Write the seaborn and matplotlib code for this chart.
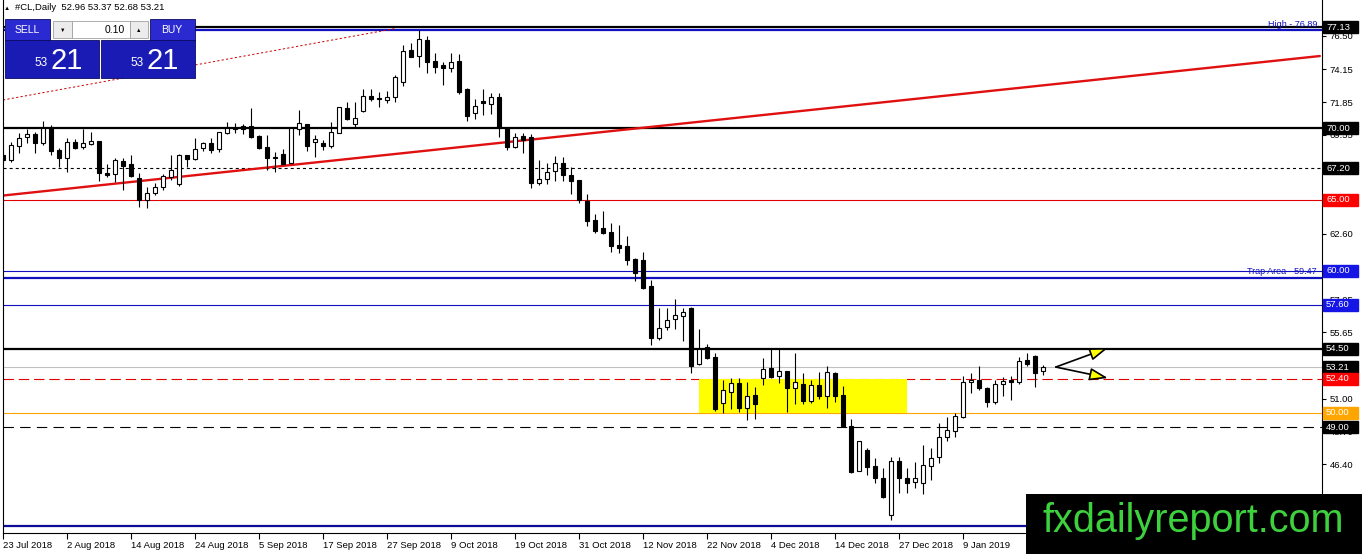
import matplotlib
matplotlib.use("Agg")
import matplotlib.pyplot as plt
import seaborn as sns
import numpy as np
from matplotlib.patches import Rectangle, FancyArrowPatch
from matplotlib.transforms import blended_transform_factory

# ---------------- data ----------------
opens = [68.10, 67.77, 68.78, 69.41, 69.58, 68.99, 70.00, 68.48, 67.89, 69.02,
         68.66, 68.92, 69.11, 66.88, 66.77, 67.73, 67.49, 66.53, 64.96, 65.48,
         65.85, 66.60, 66.09, 68.13, 67.87, 68.61, 68.95, 68.55, 69.70, 70.05,
         70.17, 70.17, 69.46, 68.71, 68.01, 68.17, 67.54, 69.95, 70.31, 69.02,
         68.95, 68.76, 69.70, 71.41, 70.31, 71.22, 72.30, 72.11, 71.99, 72.18,
         73.28, 75.51, 75.11, 76.21, 74.74, 74.46, 74.22, 74.74, 72.77, 71.06,
         71.92, 71.69, 72.18, 70.00, 68.67, 69.46, 69.40, 66.14, 66.42, 67.00,
         67.54, 66.72, 66.37, 64.92, 63.56, 62.97, 62.71, 61.80, 61.73, 60.79,
         60.74, 58.92, 55.24, 56.01, 56.58, 56.81, 57.35, 53.44, 54.61, 53.90,
         50.67, 51.49, 52.08, 50.32, 51.26, 52.43, 53.13, 52.59, 52.94, 51.72,
         52.03, 50.83, 51.96, 51.18, 52.78, 51.25, 49.07, 45.91, 47.38, 46.26,
         45.44, 42.81, 46.61, 45.44, 45.16, 45.09, 46.26, 46.87, 48.28, 48.72,
         49.73, 52.14, 52.31, 51.72, 50.78, 52.00, 52.31, 52.14, 53.71, 53.99,
         52.96]
highs = [68.40, 69.06, 69.65, 69.93, 69.77, 70.52, 70.24, 68.59, 69.30, 69.23,
         69.95, 69.77, 69.11, 67.49, 67.89, 67.89, 68.10, 66.88, 65.90, 66.13,
         66.79, 68.13, 68.20, 68.13, 69.30, 69.06, 69.30, 69.77, 70.47, 70.35,
         70.28, 71.41, 69.53, 69.53, 68.36, 68.52, 70.00, 71.29, 70.31, 69.53,
         69.18, 70.42, 71.48, 71.88, 71.88, 72.77, 72.77, 72.58, 72.63, 73.75,
         75.86, 75.98, 76.92, 76.49, 75.28, 74.69, 75.28, 75.21, 72.81, 72.04,
         72.74, 72.46, 72.46, 70.07, 69.65, 69.65, 69.60, 67.78, 67.59, 68.06,
         68.01, 67.26, 66.37, 65.39, 63.98, 64.19, 63.37, 63.21, 62.43, 60.86,
         61.33, 59.34, 57.35, 57.35, 57.98, 57.35, 57.42, 55.87, 54.84, 54.19,
         52.31, 52.43, 52.43, 52.19, 51.80, 53.83, 54.47, 54.47, 52.94, 54.18,
         52.78, 52.31, 52.85, 53.29, 52.85, 51.88, 49.54, 48.02, 47.50, 46.80,
         46.10, 46.92, 46.92, 46.10, 46.56, 47.74, 47.50, 49.26, 49.73, 50.01,
         52.59, 52.78, 53.29, 51.84, 52.31, 52.50, 52.59, 53.90, 54.18, 54.07,
         53.37]
lows = [67.60, 67.66, 68.24, 68.95, 68.24, 68.83, 68.13, 67.31, 66.95, 68.52,
        68.52, 68.83, 66.32, 66.60, 66.25, 65.66, 66.60, 64.49, 64.38, 65.31,
        65.66, 66.37, 65.95, 67.26, 67.77, 68.43, 68.24, 68.36, 69.60, 69.65,
        69.60, 69.30, 68.52, 67.07, 66.95, 67.49, 67.54, 69.53, 68.43, 68.01,
        68.48, 68.59, 69.65, 70.59, 70.12, 71.17, 71.95, 71.53, 71.76, 71.88,
        73.00, 74.99, 74.34, 73.87, 73.87, 73.05, 73.99, 72.42, 70.54, 70.68,
        70.94, 71.01, 69.42, 68.48, 68.59, 68.24, 65.78, 66.02, 66.07, 66.32,
        66.32, 65.36, 64.78, 63.14, 62.67, 62.57, 61.33, 61.21, 60.39, 59.27,
        58.68, 54.77, 55.12, 55.83, 55.87, 55.08, 52.78, 53.37, 53.76, 50.15,
        49.97, 50.25, 50.08, 49.50, 49.55, 51.96, 52.43, 52.12, 50.08, 50.62,
        50.62, 50.67, 50.95, 50.31, 50.78, 49.03, 45.74, 45.91, 45.63, 45.09,
        43.99, 42.46, 44.34, 44.34, 44.69, 44.29, 45.28, 46.49, 48.04, 48.28,
        49.66, 51.37, 51.60, 50.39, 50.62, 51.18, 50.90, 52.03, 53.29, 51.79,
        52.68]
closes = [67.77, 68.83, 69.30, 69.60, 68.99, 70.00, 68.43, 67.89, 69.02, 68.64,
          68.95, 69.09, 66.84, 66.70, 67.77, 67.38, 66.67, 64.96, 65.48, 65.90,
          66.67, 67.07, 68.13, 67.87, 68.52, 68.95, 68.48, 69.77, 70.00, 69.93,
          69.93, 69.37, 68.59, 67.89, 67.89, 67.49, 70.00, 70.35, 68.76, 69.25,
          68.76, 69.72, 71.48, 70.66, 70.75, 72.30, 72.06, 72.04, 72.23, 73.59,
          75.46, 75.04, 76.26, 74.69, 74.34, 74.22, 74.69, 72.58, 70.87, 71.57,
          71.76, 72.18, 70.07, 68.67, 69.37, 69.18, 66.14, 66.42, 66.96, 67.59,
          66.72, 66.32, 64.96, 63.51, 62.81, 62.67, 61.75, 61.61, 60.74, 59.81,
          58.75, 55.24, 55.94, 56.53, 56.88, 57.12, 53.30, 54.47, 53.83, 50.25,
          51.61, 52.08, 50.32, 51.19, 50.62, 53.07, 52.55, 52.94, 51.72, 52.14,
          50.83, 51.96, 51.18, 52.85, 51.18, 49.07, 45.86, 48.02, 46.17, 45.39,
          44.06, 46.61, 45.39, 45.09, 45.44, 46.33, 46.80, 48.28, 48.79, 49.78,
          52.14, 52.31, 51.72, 50.74, 52.03, 52.26, 52.19, 53.67, 53.43, 52.78,
          53.21]

date_labels = ["23 Jul 2018", "2 Aug 2018", "14 Aug 2018", "24 Aug 2018", "5 Sep 2018",
               "17 Sep 2018", "27 Sep 2018", "9 Oct 2018", "19 Oct 2018", "31 Oct 2018",
               "12 Nov 2018", "22 Nov 2018", "4 Dec 2018", "14 Dec 2018", "27 Dec 2018",
               "9 Jan 2019"]
date_label_bars = [0, 8, 16, 24, 32, 40, 48, 56, 64, 72, 80, 88, 96, 104, 112, 120]

price_ticks = [76.50, 74.15, 71.85, 69.55, 67.25, 64.90, 62.60, 60.30, 57.95,
               55.65, 53.35, 51.00, 48.70, 46.40, 44.10]
# scale labels that the price boxes hide completely in the reference
hidden_ticks = [67.25, 64.90, 60.30, 53.35, 44.10]

# horizontal levels
level_prices = [77.13, 76.89, 70.00, 67.20, 65.00, 60.00, 59.47, 57.60, 54.50,
                53.21, 52.40, 50.00, 49.00, 42.05]
# price labels on the right scale
box_prices = [77.13, 70.00, 67.20, 65.00, 60.00, 57.60, 54.50, 53.21, 52.40, 50.00, 49.00]

# trend lines (bar index, price)
trend_bars = [0, 164.6]
trend_prices = [65.28, 75.09]
dotted_bars = [0, 49]
dotted_prices = [72.00, 77.02]

# support zone
zone_bars = [87, 113]
zone_prices = [50.00, 52.40]

# arrows
arrow_start = (131.6, 53.22)
arrow_ends = [(138.1, 54.56), (138.1, 52.45)]

symbol = "#CL,Daily"
lot = "0.10"

# ---------------- styles ----------------
W, H = 1362, 554
BLUE = "#1010c0"
level_styles = [
    dict(color="black", lw=1.6, ls="-"),
    dict(color=BLUE, lw=1.6, ls="-"),
    dict(color="black", lw=1.6, ls="-"),
    dict(color="black", lw=0.8, ls=(0, (2.2, 2.2))),
    dict(color="#e00000", lw=0.8, ls="-"),
    dict(color=BLUE, lw=0.8, ls="-"),
    dict(color=BLUE, lw=1.6, ls="-"),
    dict(color=BLUE, lw=0.8, ls="-"),
    dict(color="black", lw=1.6, ls="-"),
    dict(color="#c0c0c0", lw=0.8, ls="-"),
    dict(color="#e00000", lw=0.8, ls=(0, (7.5, 3.5))),
    dict(color="#ffa500", lw=0.8, ls="-"),
    dict(color="black", lw=0.8, ls=(0, (7.5, 4.5))),
    dict(color="#0c0c96", lw=1.6, ls="-"),
]
box_colors = ["black", "black", "black", "#ff0000", "#1515e6", "#1515e6",
              "black", "black", "#ff0000", "#ffa500", "black"]

sns.set_theme(style="white")
plt.rcParams["font.family"] = ["Liberation Sans", "DejaVu Sans"]
plt.rcParams["lines.scale_dashes"] = False
plt.rcParams["axes.linewidth"] = 0.8

fig = plt.figure(figsize=(W / 100, H / 100), dpi=100, facecolor="white")
ax_left, ax_right, ax_top, ax_bottom = 3, 1322, 0, 533
ax = fig.add_axes([ax_left / W, 1 - ax_bottom / H, (ax_right - ax_left) / W, (ax_bottom - ax_top) / H])
ax.set_facecolor("white")

px_per_bar = 8.0
ax.set_xlim(0, (ax_right - ax_left) / px_per_bar)
ax.set_ylim(41.55, 79.03)

# levels
for p, st in zip(level_prices, level_styles):
    ax.axhline(p, color=st["color"], lw=st["lw"], ls=st["ls"], zorder=1)

# zone
ax.add_patch(Rectangle((zone_bars[0], zone_prices[0]), zone_bars[1] - zone_bars[0],
                       zone_prices[1] - zone_prices[0], facecolor="#ffff00",
                       edgecolor="none", zorder=1.5))

# trend lines via seaborn
sns.lineplot(x=trend_bars, y=trend_prices, ax=ax, color="#e01010", lw=1.7, zorder=2)
sns.lineplot(x=dotted_bars, y=dotted_prices, ax=ax, color="#cc0000", lw=0.7,
             linestyle=(0, (1.6, 1.6)), zorder=2)

# candles
x = np.arange(len(opens))
o = np.array(opens); c = np.array(closes); h = np.array(highs); l = np.array(lows)
ax.vlines(x, l, h, color="black", lw=0.8, zorder=3)
bull = c >= o
body_bottom = np.minimum(o, c)
body_h = np.maximum(np.abs(c - o), 0.05)
ax.bar(x[bull], body_h[bull], bottom=body_bottom[bull], width=0.62, color="white",
       edgecolor="black", linewidth=0.8, zorder=4)
ax.bar(x[~bull], body_h[~bull], bottom=body_bottom[~bull], width=0.62, color="black",
       edgecolor="black", linewidth=0.8, zorder=4)

# arrows
for end in arrow_ends:
    arr = FancyArrowPatch(arrow_start, end, arrowstyle="-|>,head_length=11,head_width=3.8",
                          mutation_scale=1, facecolor="#ffff00", edgecolor="black",
                          lw=1.2, zorder=6, clip_on=False, shrinkA=0, shrinkB=0)
    ax.add_patch(arr)

# axes cosmetics
ax.spines["top"].set_visible(False)
for s in ["left", "right", "bottom"]:
    ax.spines[s].set_visible(True)
    ax.spines[s].set_color("black")
    ax.spines[s].set_linewidth(0.8)
ax.grid(False)
ax.yaxis.tick_right()
ax.set_yticks(price_ticks)
ax.set_yticklabels(["" if v in hidden_ticks else f"{v:.2f}" for v in price_ticks])
ax.tick_params(axis="y", direction="out", length=3, width=0.8, pad=2.5,
               labelsize=6.8, colors="black", right=True, left=False)
ax.set_xticks(date_label_bars)
ax.set_xticklabels(date_labels, ha="left")
ax.tick_params(axis="x", direction="out", length=4, width=0.8, pad=1.5,
               labelsize=6.8, colors="black", bottom=True)
ax.set_xlabel(""); ax.set_ylabel("")

# right price boxes
trans = blended_transform_factory(ax.transAxes, ax.transData)
span = ax_right - ax_left
bx0 = (1323 - ax_left) / span
bw = 35 / span
bh = 12 / (533 / (79.03 - 41.55))
for p, col in zip(box_prices, box_colors):
    ax.add_patch(Rectangle((bx0, p - bh / 2), bw, bh, transform=trans, facecolor=col,
                           edgecolor=col, clip_on=False, zorder=8))
    ax.text((1326 - ax_left) / span, p, f"{p:.2f}", transform=trans, color="white",
            fontsize=6.8, ha="left", va="center", clip_on=False, zorder=9)

# line labels
ax.text((1317 - ax_left) / span, level_prices[1] + 0.12, f"High - {level_prices[1]:.2f}",
        transform=trans, color=BLUE, fontsize=6.5, ha="right", va="bottom", zorder=7)
ax.text((1317 - ax_left) / span, level_prices[6] + 0.12, f"Trap Area - {level_prices[6]:.2f}",
        transform=trans, color=BLUE, fontsize=6.5, ha="right", va="bottom", zorder=7)


# ---------------- figure-level overlays ----------------
def frect(x0, y0, x1, y1, fc, ec="none", lw=0.0, z=10):
    fig.add_artist(Rectangle((x0 / W, 1 - y1 / H), (x1 - x0) / W, (y1 - y0) / H,
                             transform=fig.transFigure, facecolor=fc, edgecolor=ec,
                             linewidth=lw, zorder=z))


def ftext(x0, y0, s, **kw):
    fig.text(x0 / W, 1 - y0 / H, s, zorder=12, **kw)


# header
ftext(4, 8, "▲", fontsize=4.5, color="black", va="center", ha="left")
ftext(15, 8, f"{symbol}  {opens[-1]:.2f} {highs[-1]:.2f} {lows[-1]:.2f} {closes[-1]:.2f}",
      fontsize=6.8, color="black", va="center", ha="left")

# trade panel
frect(5, 19, 195, 40, "white")
frect(5, 19, 50, 41, "#2a2ad0", ec="#0a0a60", lw=0.6)
frect(150, 19, 195, 41, "#2a2ad0", ec="#0a0a60", lw=0.6)
frect(5, 40, 99, 78, "#1a1ab4", ec="#0a0a60", lw=0.6)
frect(101, 40, 195, 78, "#1a1ab4", ec="#0a0a60", lw=0.6)
frect(9, 39.5, 46, 40.3, "#8080e0", z=11)
frect(154, 39.5, 191, 40.3, "#8080e0", z=11)
frect(53, 21, 72, 38, "#ececec", ec="#a0a0a0", lw=0.6)
frect(72, 21, 130, 38, "white", ec="#a0a0a0", lw=0.6)
frect(130, 21, 148, 38, "#ececec", ec="#a0a0a0", lw=0.6)
ftext(62.5, 30, "▼", fontsize=4, color="black", ha="center", va="center")
ftext(139, 30, "▲", fontsize=4, color="black", ha="center", va="center")
ftext(125, 30, lot, fontsize=7.5, color="black", ha="right", va="center")
ftext(27, 30, "SELL", fontsize=7.5, color="white", ha="center", va="center")
ftext(172, 30, "BUY", fontsize=7.5, color="white", ha="center", va="center")
bid = f"{closes[-1]:.2f}"
big, small = bid.split(".")[1], bid.split(".")[0]
for bx in (0, 96):
    ftext(48 + bx, 66, small, fontsize=8.5, color="white", ha="right", va="baseline")
    ftext(51 + bx, 69, big, fontsize=21, color="white", ha="left", va="baseline")

# watermark
frect(1026, 494, 1362, 554, "black", z=10)
ftext(1193, 521, "fxdailyreport.com", fontsize=28.5, color="#3dd13d", ha="center", va="center")

fig.savefig("out.png", dpi=100, facecolor="white")
